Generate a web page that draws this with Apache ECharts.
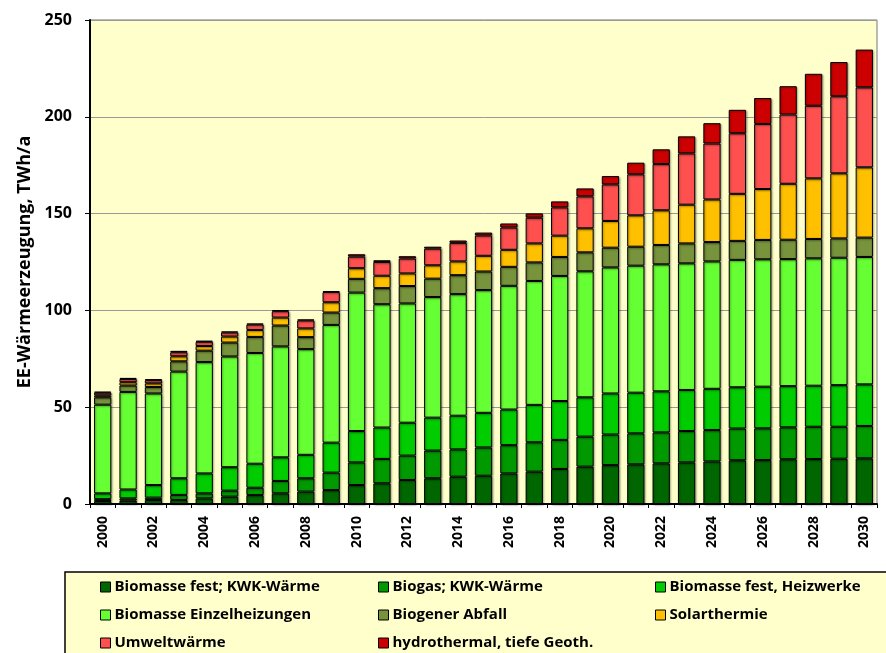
<!DOCTYPE html>
<html>
<head>
<meta charset="utf-8">
<script src="https://cdn.jsdelivr.net/npm/echarts@6/dist/echarts.min.js"></script>
<style>
  html, body { margin: 0; padding: 0; background: #fff; }
  #chart { width: 886px; height: 653px; }
</style>
</head>
<body>
<div id="chart"></div>
<script>
// Jahre 2000 - 2030
const years = [];
for (let y = 2000; y <= 2030; y++) years.push(String(y));

// Werte in TWh/a
const kwkFest = [1.5, 1.7, 2.1, 2.1, 2.9, 3.8, 4.6, 5.5, 6.4, 7.2, 9.8, 10.7, 12.4, 13.3, 14.1, 14.6, 15.8, 16.7, 18.1, 19.3, 20.1, 20.5, 21.0, 21.5, 22.0, 22.6, 22.7, 23.1, 23.2, 23.4, 23.6];
const kwkBiogas = [1.0, 1.2, 1.2, 2.6, 2.6, 3.1, 3.8, 6.4, 6.9, 9.0, 11.7, 12.6, 12.6, 14.3, 14.1, 14.6, 14.6, 15.2, 15.0, 15.5, 15.8, 16.0, 16.0, 16.2, 16.2, 16.4, 16.4, 16.5, 16.7, 16.5, 16.7];
const heizwerke = [3.0, 4.6, 6.5, 8.6, 10.3, 12.1, 12.4, 12.2, 12.1, 15.5, 16.2, 16.2, 17.0, 17.0, 17.4, 17.9, 18.4, 19.3, 20.1, 20.3, 21.2, 21.0, 21.2, 21.2, 21.3, 21.3, 21.5, 21.3, 21.2, 21.5, 21.5];
const einzel = [45.8, 50.4, 47.3, 55.1, 57.5, 57.2, 57.2, 57.3, 54.6, 60.8, 71.5, 63.7, 61.6, 62.3, 62.8, 63.4, 63.9, 64.0, 64.6, 65.1, 65.1, 65.6, 65.6, 65.4, 65.8, 65.8, 65.8, 65.6, 65.8, 65.8, 65.8];
const abfall = [3.8, 3.3, 3.3, 5.3, 5.9, 7.2, 8.3, 10.8, 6.2, 6.4, 7.1, 8.3, 9.0, 9.5, 9.8, 9.6, 9.8, 9.6, 9.8, 9.8, 10.2, 9.8, 10.0, 10.3, 10.0, 9.8, 10.0, 10.0, 10.0, 10.0, 10.0];
const solar = [1.0, 1.7, 1.9, 2.6, 2.4, 3.1, 3.6, 4.1, 4.5, 5.3, 5.5, 6.4, 6.5, 6.9, 7.1, 8.1, 8.8, 9.8, 11.0, 12.4, 13.8, 16.2, 17.9, 20.0, 22.0, 24.3, 26.3, 28.9, 31.3, 33.6, 36.3];
const umwelt = [1.4, 1.7, 1.7, 2.1, 2.2, 2.1, 2.8, 3.3, 4.1, 5.3, 6.0, 7.1, 7.7, 8.6, 9.6, 10.5, 11.5, 13.3, 14.6, 16.5, 18.9, 21.2, 23.9, 26.5, 28.9, 31.3, 33.6, 35.8, 37.5, 39.8, 41.3];
const geoth = [0.5, 0.5, 0.4, 0.7, 0.5, 0.5, 0.5, 0.5, 0.5, 0.5, 1.2, 0.9, 1.2, 1.0, 1.2, 1.5, 2.1, 2.2, 3.1, 4.1, 4.3, 6.0, 7.6, 8.8, 10.5, 12.1, 13.4, 14.6, 16.5, 17.7, 19.5];

const yTicks = [0, 50, 100, 150, 200, 250];

const reihen = [
    { name: 'Biomasse fest; KWK-Wärme', data: kwkFest, color: '#006600' },
    { name: 'Biogas; KWK-Wärme', data: kwkBiogas, color: '#009900' },
    { name: 'Biomasse fest, Heizwerke', data: heizwerke, color: '#00cc00' },
    { name: 'Biomasse Einzelheizungen', data: einzel, color: '#66ff33' },
    { name: 'Biogener Abfall', data: abfall, color: '#77933c' },
    { name: 'Solarthermie', data: solar, color: '#ffc000' },
    { name: 'Umweltwärme', data: umwelt, color: '#ff5050' },
    { name: 'hydrothermal, tiefe Geoth.', data: geoth, color: '#cc0000' }
];

const chart = echarts.init(document.getElementById('chart'));

const fontFam = '"Open Sans", "Noto Sans", sans-serif';

// eine Spalte der Legende (3 Spalten nebeneinander)
function legendCol(names, left) {
    return {
        orient: 'vertical',
        left: left,
        top: 578,
        padding: 0,
        itemWidth: 10,
        itemHeight: 10,
        itemGap: 10,
        icon: 'rect',
        data: names,
        itemStyle: { borderColor: '#000', borderWidth: 1 },
        textStyle: {
            fontFamily: fontFam, fontWeight: 'bold', fontSize: 15, color: '#000',
            lineHeight: 18, padding: [0, 0, 0, -1]
        },
        selectedMode: false
    };
}

const option = {
    backgroundColor: '#fff',
    animation: false,
    graphic: [{
        type: 'rect',
        shape: { x: 65, y: 572, width: 840, height: 100 },
        style: { fill: '#ffffcc', stroke: '#000', lineWidth: 1.5 },
        z: -1
    }],
    legend: [
        legendCol([reihen[0].name, reihen[3].name, reihen[6].name], 100),
        legendCol([reihen[1].name, reihen[4].name, reihen[7].name], 378),
        legendCol([reihen[2].name, reihen[5].name], 655)
    ],
    grid: {
        left: 90,
        right: 9,
        top: 20,
        bottom: 149,
        show: true,
        backgroundColor: '#ffffcc',
        borderColor: '#777',
        borderWidth: 1
    },
    xAxis: {
        type: 'category',
        data: years,
        axisLine: { lineStyle: { color: '#000', width: 2 } },
        axisTick: { show: true, interval: 0, length: 4, lineStyle: { color: '#000' } },
        axisLabel: {
            interval: 1,
            rotate: 90,
            fontFamily: fontFam,
            fontWeight: 'bold',
            fontSize: 14,
            color: '#000',
            margin: 12
        }
    },
    yAxis: {
        type: 'value',
        min: yTicks[0],
        max: yTicks[yTicks.length - 1],
        interval: 50,
        name: 'EE-Wärmeerzeugung, TWh/a',
        nameLocation: 'middle',
        nameGap: 56,
        nameTextStyle: { fontFamily: fontFam, fontWeight: 'bold', fontSize: 18, color: '#000' },
        axisLine: { show: true, lineStyle: { color: '#000', width: 2 } },
        axisTick: { show: true, length: 5, lineStyle: { color: '#000' } },
        axisLabel: {
            fontFamily: fontFam,
            fontWeight: 'bold',
            fontSize: 16,
            color: '#000',
            margin: 18
        },
        splitLine: { lineStyle: { color: '#999', width: 1 } }
    },
    series: reihen.map(r => ({
        name: r.name,
        type: 'bar',
        stack: 'gesamt',
        data: r.data,
        barCategoryGap: '32%',
        itemStyle: {
            color: r.color,
            borderColor: '#000',
            borderWidth: 1,
            shadowColor: 'rgba(0,0,0,0.35)',
            shadowBlur: 2,
            shadowOffsetX: 1,
            shadowOffsetY: 1
        }
    }))
};

chart.setOption(option);

window.addEventListener('resize', function() {
    chart.resize();
});
</script>
</body>
</html>
